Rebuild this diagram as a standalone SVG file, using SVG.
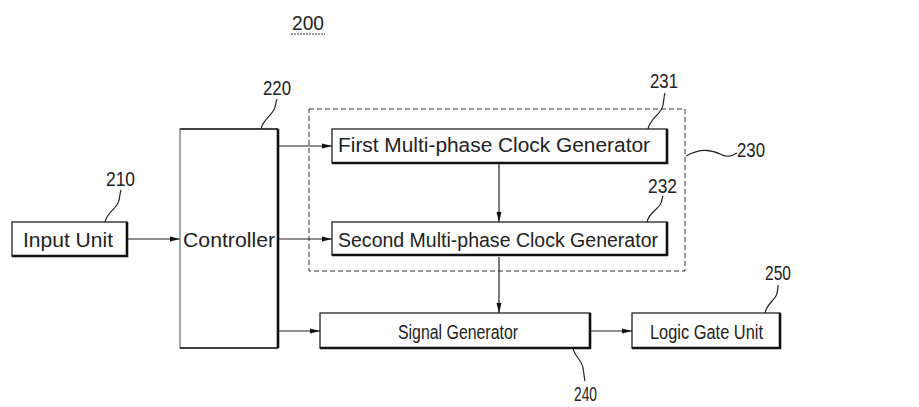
<svg xmlns="http://www.w3.org/2000/svg" width="919" height="407" viewBox="0 0 919 407">
<style>
.box{fill:#fff;stroke:#222;stroke-width:1.3}
.sh{fill:none;stroke:#111;stroke-width:2.6}
.t{font-family:"Liberation Sans","DejaVu Sans",sans-serif;font-size:20px;fill:#222}
.n{font-family:"Liberation Sans","DejaVu Sans",sans-serif;font-size:20px;fill:#222}
.ld{fill:none;stroke:#222;stroke-width:1.2}
.c{fill:none;stroke:#222;stroke-width:1.2}
.dash{fill:none;stroke:#333;stroke-width:1;stroke-dasharray:5,3}
</style>
<defs>
<marker id="ah" markerWidth="10" markerHeight="8" refX="10" refY="4" orient="auto" markerUnits="userSpaceOnUse">
<path d="M0,1.5 L10,4 L0,6.5 Z" fill="#111"/>
</marker>
</defs>
<rect width="919" height="407" fill="#fff"/>

<g id="label-200">
<text class="n" x="292" y="30" textLength="32" lengthAdjust="spacingAndGlyphs">200</text>
<line x1="291" y1="34" x2="325" y2="34" stroke="#333" stroke-width="1" stroke-dasharray="2,1"/>
</g>

<g id="group-230">
<rect class="dash" x="309" y="109" width="376" height="162"/>
<path class="ld" d="M686,156 C700,148 712,150 720,154 C727,158 732,156 737,153"/>
<text class="n" x="737" y="157" textLength="28" lengthAdjust="spacingAndGlyphs">230</text>
</g>

<g id="connectors">
<line class="c" x1="127" y1="239" x2="180" y2="239" marker-end="url(#ah)"/>
<line class="c" x1="278" y1="146" x2="332" y2="146" marker-end="url(#ah)"/>
<line class="c" x1="278" y1="239" x2="332" y2="239" marker-end="url(#ah)"/>
<line class="c" x1="499" y1="164" x2="499" y2="222" marker-end="url(#ah)"/>
<line class="c" x1="499" y1="257" x2="499" y2="313" marker-end="url(#ah)"/>
<line class="c" x1="278" y1="331" x2="320" y2="331" marker-end="url(#ah)" stroke-width="1.8"/>
<line class="c" x1="591" y1="331" x2="632" y2="331" marker-end="url(#ah)" stroke-width="1.8"/>
</g>

<g id="node-210">
<rect class="box" x="12" y="222" width="115" height="34"/>
<polyline class="sh" points="127,222 127,256 12,256"/>
<text class="t" x="23" y="247" textLength="90" lengthAdjust="spacingAndGlyphs">Input Unit</text>
<path class="ld" d="M105,222 C107,212 118,208 119,200 C120,196 120,193 121,190"/>
<text class="n" x="106" y="186" textLength="29" lengthAdjust="spacingAndGlyphs">210</text>
</g>

<g id="node-220">
<rect class="box" x="180" y="129" width="98" height="219" style="stroke:#777"/>
<line x1="180" y1="129" x2="278" y2="129" stroke="#222" stroke-width="1.3"/>
<line x1="180" y1="348" x2="278" y2="348" stroke="#222" stroke-width="1.3"/>
<polyline class="sh" points="278,129 278,348"/>
<text class="t" x="183" y="247" textLength="92" lengthAdjust="spacingAndGlyphs">Controller</text>
<path class="ld" d="M261,129 C263,119 274,114 275,107 C276,103 276,101 277,99"/>
<text class="n" x="263" y="95" textLength="28" lengthAdjust="spacingAndGlyphs">220</text>
</g>

<g id="node-231">
<rect class="box" x="332" y="129" width="335" height="34"/>
<polyline class="sh" points="667,129 667,163 332,163"/>
<text class="t" x="338" y="152" textLength="312" lengthAdjust="spacingAndGlyphs">First Multi-phase Clock Generator</text>
<path class="ld" d="M648,129 C650,118 662,114 663,105 C664,100 664,96 665,93"/>
<text class="n" x="650" y="88" textLength="28" lengthAdjust="spacingAndGlyphs">231</text>
</g>

<g id="node-232">
<rect class="box" x="332" y="222" width="335" height="33"/>
<polyline class="sh" points="667,222 667,255 332,255"/>
<text class="t" x="338" y="247" textLength="320" lengthAdjust="spacingAndGlyphs">Second Multi-phase Clock Generator</text>
<path class="ld" d="M647,222 C649,212 660,208 661,203 C662,200 662,198 663,196"/>
<text class="n" x="648" y="193" textLength="29" lengthAdjust="spacingAndGlyphs">232</text>
</g>

<g id="node-240">
<rect class="box" x="320" y="313" width="270" height="35"/>
<polyline class="sh" points="590,313 590,348 320,348"/>
<text class="t" x="398" y="339" textLength="120" lengthAdjust="spacingAndGlyphs">Signal Generator</text>
<path class="ld" d="M573,348 C574,356 582,360 583,368 C584,373 584,377 585,381"/>
<text class="n" x="574" y="401" textLength="23" lengthAdjust="spacingAndGlyphs">240</text>
</g>

<g id="node-250">
<rect class="box" x="632" y="313" width="148" height="35"/>
<polyline class="sh" points="780,313 780,348 632,348"/>
<text class="t" x="650" y="339" textLength="113" lengthAdjust="spacingAndGlyphs">Logic Gate Unit</text>
<path class="ld" d="M765,313 C767,303 776,300 777,293 C778,290 778,288 778,285"/>
<text class="n" x="765" y="280" textLength="26" lengthAdjust="spacingAndGlyphs">250</text>
</g>
</svg>
